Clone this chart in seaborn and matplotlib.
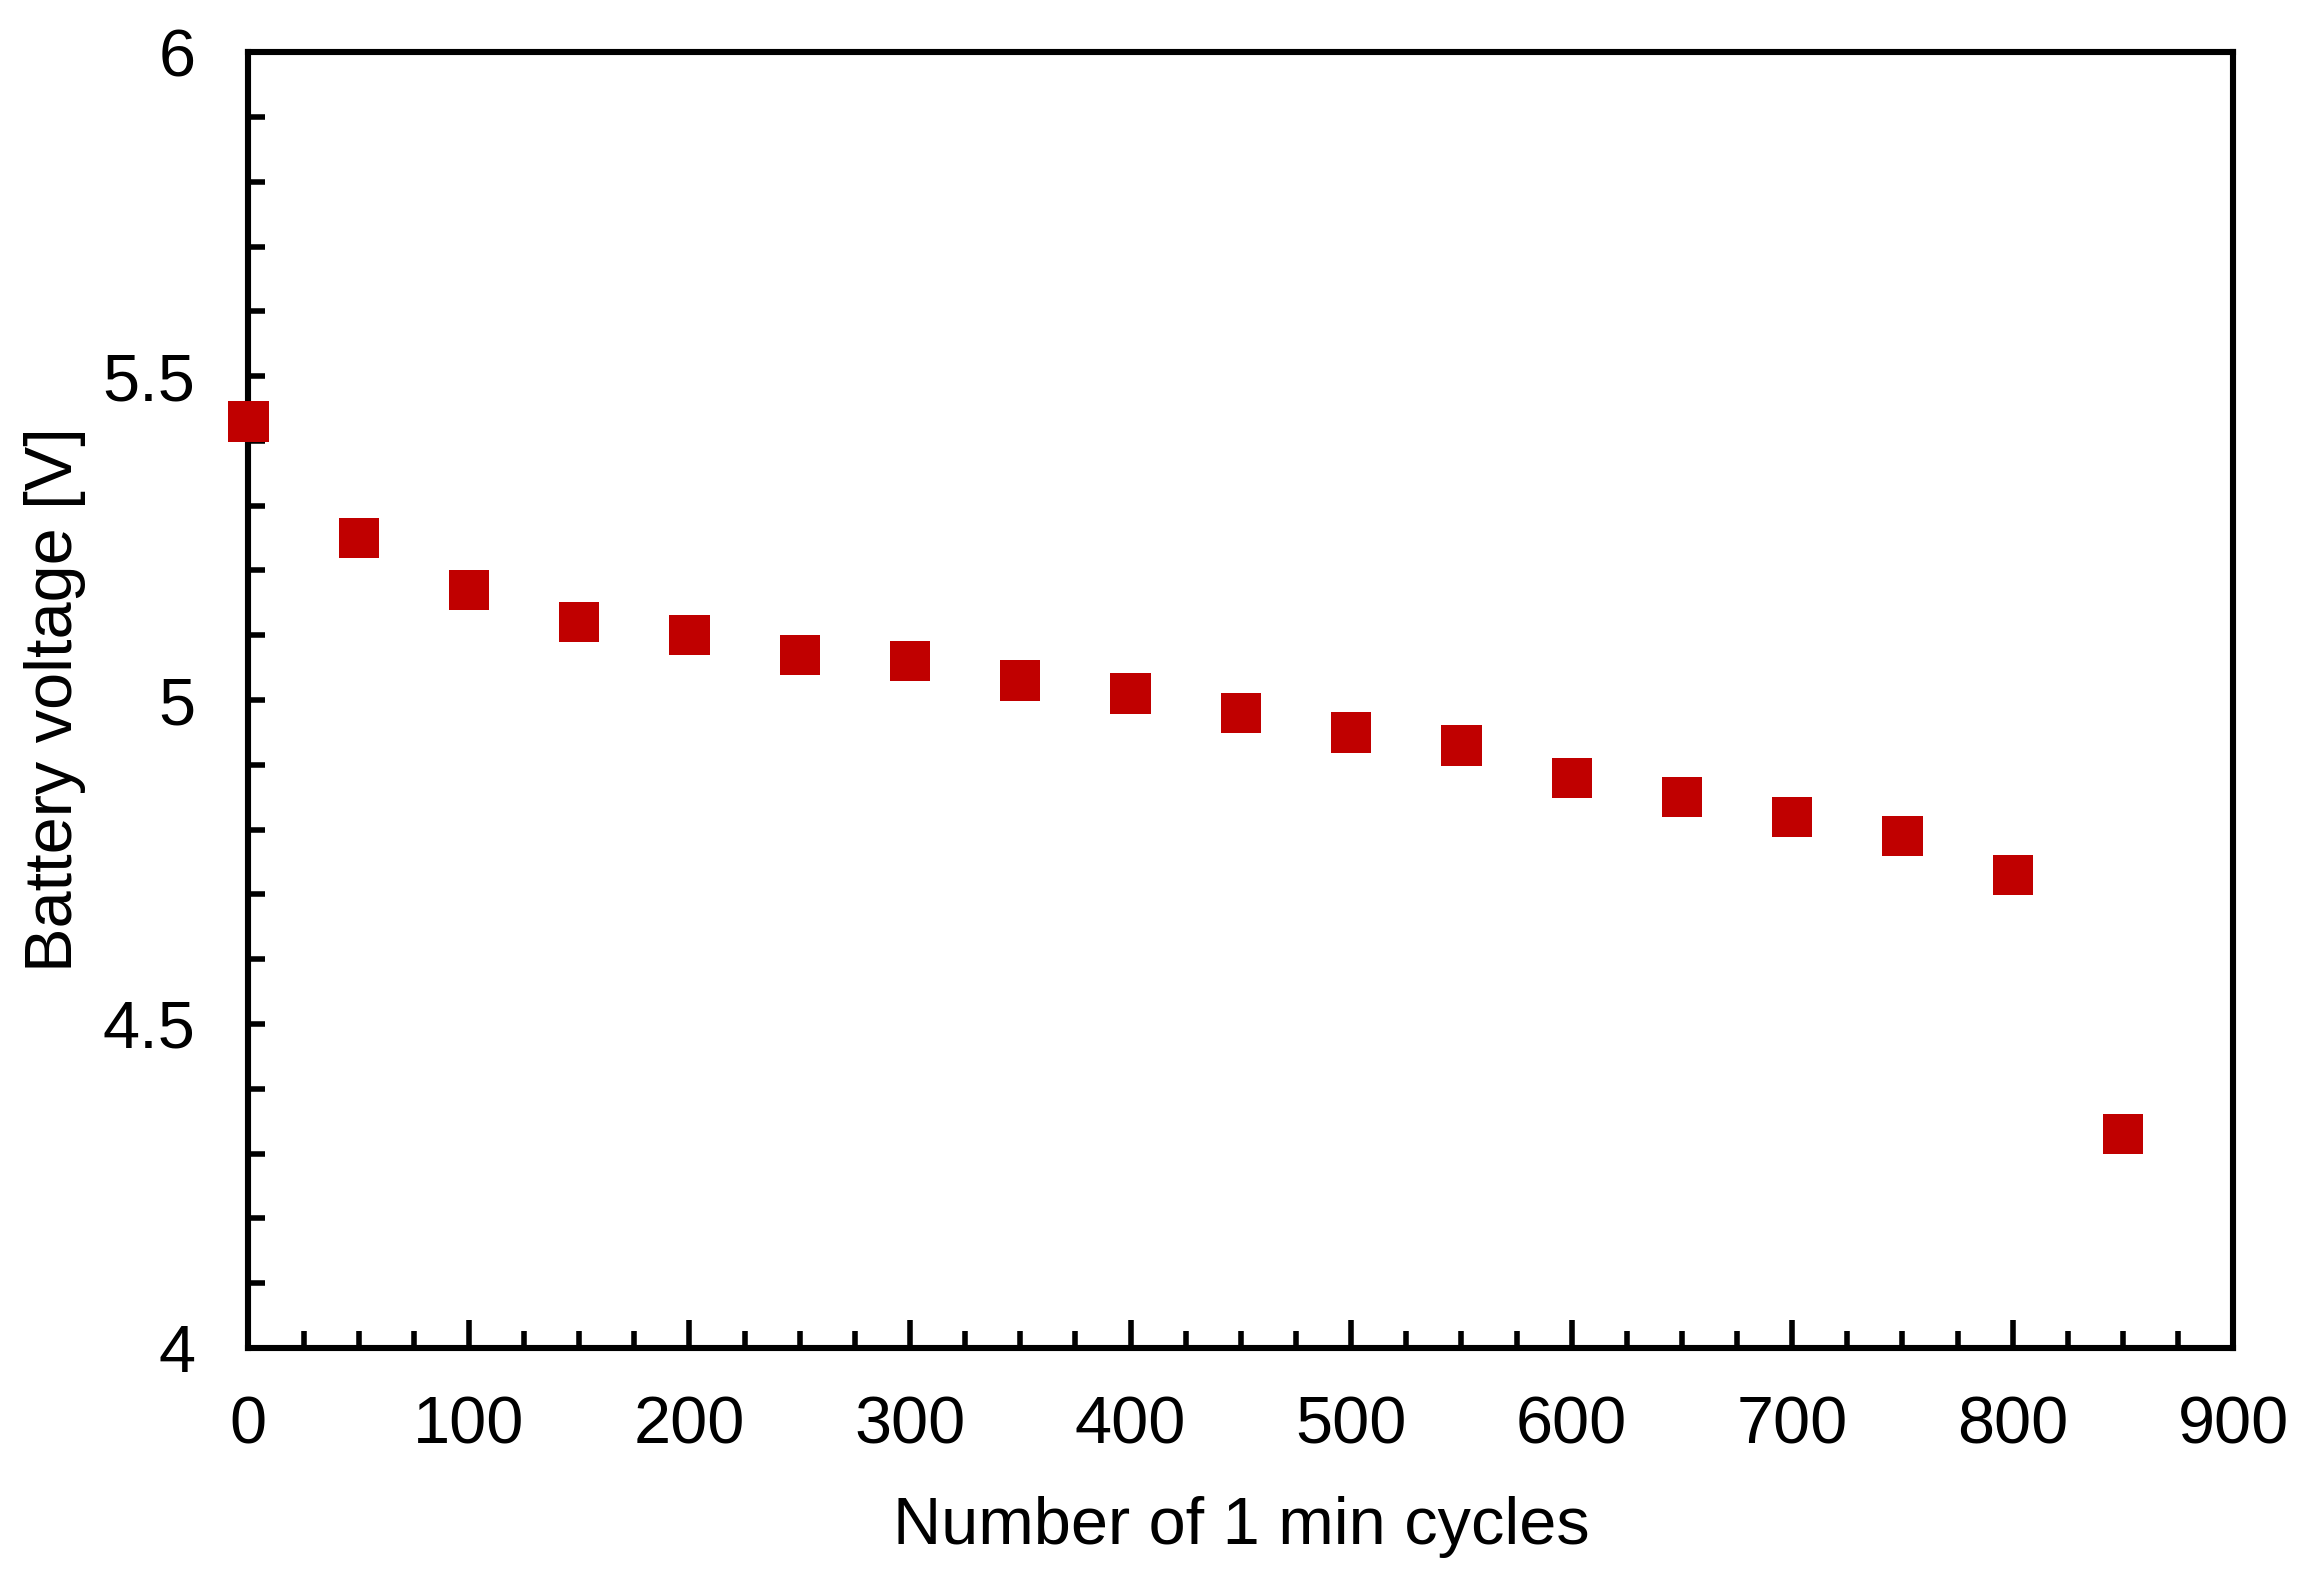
import numpy as np
import pandas as pd
import matplotlib
matplotlib.use('Agg')
import matplotlib.pyplot as plt
import seaborn as sns
from matplotlib.ticker import MultipleLocator

# datos
ciclos = [0, 50, 100, 150, 200, 250, 300, 350, 400, 450,
          500, 550, 600, 650, 700, 750, 800, 850]
voltaje = [5.43, 5.25, 5.17, 5.12, 5.10, 5.07, 5.06, 5.03, 5.01, 4.98,
           4.95, 4.93, 4.88, 4.85, 4.82, 4.79, 4.73, 4.33]

df = pd.DataFrame({'ciclos': ciclos, 'voltaje': voltaje})

sns.set_style("white")
plt.rcParams['font.family'] = ['Liberation Sans', 'DejaVu Sans']
plt.rcParams['text.color'] = 'black'
plt.rcParams['axes.labelcolor'] = 'black'
plt.rcParams['xtick.color'] = 'black'
plt.rcParams['ytick.color'] = 'black'

fig = plt.figure(figsize=(11.5, 7.91), dpi=200)
ax = fig.add_axes([0.108, 0.148, 0.863, 0.819])

sns.scatterplot(x='ciclos', y='voltaje', data=df, marker='s', s=210,
                color='#C00000', edgecolor='none', ax=ax, clip_on=False, zorder=5)

ax.set_xlim(0, 900)
ax.set_ylim(4, 6)
ax.xaxis.set_major_locator(MultipleLocator(100))
ax.xaxis.set_minor_locator(MultipleLocator(25))
ax.yaxis.set_major_locator(MultipleLocator(0.5))
ax.yaxis.set_minor_locator(MultipleLocator(0.1))
ax.set_yticks([4, 4.5, 5, 5.5, 6])
ax.set_yticklabels(['4', '4.5', '5', '5.5', '6'])

for s in ax.spines.values():
    s.set_linewidth(2.2)
    s.set_color('black')

ax.tick_params(axis='x', which='major', direction='in', length=10, width=2,
               labelsize=24, pad=17, top=False, bottom=True)
ax.tick_params(axis='x', which='minor', direction='in', length=6, width=2,
               top=False, bottom=True)
ax.tick_params(axis='y', which='major', direction='in', length=6, width=2,
               labelsize=24, pad=19, left=True, right=False)
ax.tick_params(axis='y', which='minor', direction='in', length=6, width=2,
               left=True, right=False)

ax.set_xlabel('Number of 1 min cycles', fontsize=24, labelpad=14)
ax.set_ylabel('Battery voltage [V]', fontsize=24, labelpad=6)

fig.savefig('out.png', dpi=200, facecolor='white')
